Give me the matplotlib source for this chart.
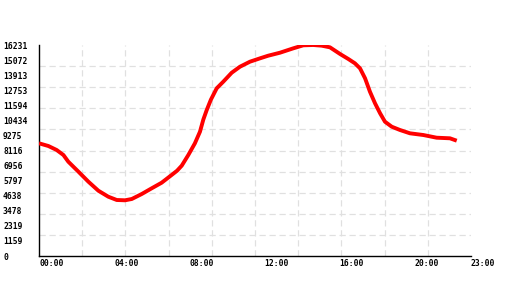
import numpy as np
import matplotlib
matplotlib.use("Agg")
import matplotlib.pyplot as plt

# data (hours since 00:00, value)
hours = [0.00, 0.50, 0.94, 1.30, 1.56, 2.10, 2.63, 3.16, 3.69, 4.14, 4.58, 4.94,
         5.47, 6.00, 6.53, 7.06, 7.35, 7.60, 7.95, 8.30, 8.57, 8.75, 8.93, 9.15, 9.46, 9.81,
         10.26, 10.70, 11.23, 11.77, 12.20, 12.83, 13.54, 14.07, 14.60, 15.05,
         15.49, 16.03, 16.47, 16.82, 17.09, 17.36, 17.62, 17.89, 18.16, 18.42,
         18.78, 19.22, 19.75, 20.46, 21.17, 21.88, 22.24]
values = [8669, 8461, 8154, 7769, 7254, 6485, 5715, 5023, 4561, 4308, 4285, 4385,
          4769, 5208, 5638, 6231, 6560, 6950, 7769, 8669, 9561, 10500, 11230, 12020, 12899, 13407,
          14099, 14561, 14946, 15207, 15407, 15638, 15976, 16207, 16231, 16180,
          16053, 15538, 15153, 14822, 14438, 13669, 12638, 11746, 10977, 10330,
          9946, 9692, 9438, 9307, 9100, 9054, 8869]

y_max = 16231
y_tick_values = [0, 1159, 2319, 3478, 4638, 5797, 6956, 8116, 9275, 10434,
                 11594, 12753, 13913, 15072, 16231]
x_tick_hours = [0, 4, 8, 12, 16, 20, 23]
x_tick_labels = ["00:00", "04:00", "08:00", "12:00", "16:00", "20:00", "23:00"]

fig = plt.figure(figsize=(5.2, 3.0), dpi=100)
ax = fig.add_axes([39/520, 1-256/300, 432/520, 211/300])

ax.plot(hours, values, color="#ff0000", lw=2.8, solid_joinstyle="round",
        solid_capstyle="butt", zorder=3)

ax.set_xlim(0, 23)
ax.set_ylim(0, y_max)

font = dict(family="DejaVu Sans Mono", size=5.8, weight="bold")

ax.set_yticks(y_tick_values)
ax.set_yticklabels([str(v) for v in y_tick_values], fontdict=font, ha="left")
ax.set_xticks(x_tick_hours)
ax.set_xticklabels(x_tick_labels, fontdict=font, ha="left")
ax.tick_params(axis="y", which="major", length=0, pad=36*0.72)
ax.tick_params(axis="x", which="major", length=0, pad=2.5)

ax.set_xticks(np.linspace(0, 23, 11)[1:-1], minor=True)
ax.set_yticks(np.linspace(0, y_max, 11)[1:-1], minor=True)
ax.tick_params(which="minor", length=0)
ax.grid(which="minor", color="#e0e0e0", linestyle=(0, (5, 3)), linewidth=0.9)
ax.grid(which="major", visible=False)

for s in ["top", "right"]:
    ax.spines[s].set_visible(False)
for s in ["left", "bottom"]:
    ax.spines[s].set_color("black")
    ax.spines[s].set_linewidth(1.0)

fig.savefig("out.png", dpi=100)
